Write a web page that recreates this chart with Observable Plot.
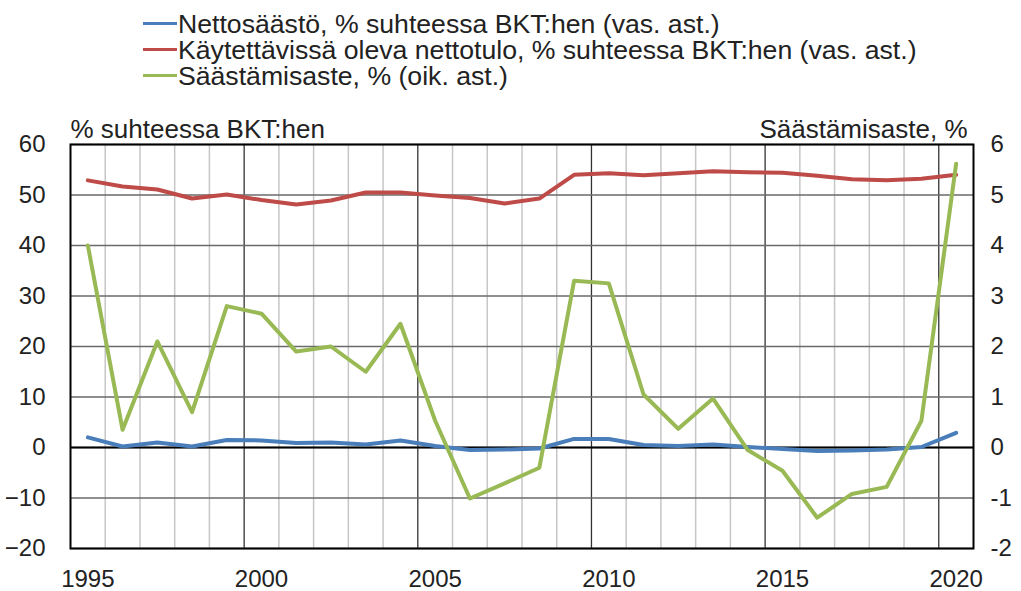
<!DOCTYPE html>
<html>
<head>
<meta charset="utf-8">
<script src="https://cdn.jsdelivr.net/npm/d3@7"></script>
<script src="https://cdn.jsdelivr.net/npm/@observablehq/plot@0.6"></script>
<style>
  html, body { margin: 0; padding: 0; background: #fff; }
  body { width: 1021px; height: 591px; overflow: hidden; font-family: "Liberation Sans", Arial, sans-serif; }
  #legend { position: relative; height: 95px; box-sizing: border-box; padding-top: 9px; padding-left: 143px; font-size: 25px; color: #222; }
  .row { height: 26px; line-height: 26px; white-space: nowrap; }
  .sw { display: inline-block; width: 34px; height: 3px; vertical-align: middle; margin-right: 1px; position: relative; top: -1px; }
  .lt { display: inline-block; transform: scaleX(1.065); transform-origin: 0 50%; vertical-align: middle; }
  svg { display: block; }
</style>
</head>
<body>
<div id="legend"></div>
<div id="chart"></div>
<script>
// ---- data ----
const years = [1995,1996,1997,1998,1999,2000,2001,2002,2003,2004,2005,2006,2007,2008,2009,2010,2011,2012,2013,2014,2015,2016,2017,2018,2019,2020];
// Nettosäästö, % suhteessa BKT:hen (left axis)
const netSaving = [2.0,0.2,1.0,0.2,1.5,1.4,0.9,1.0,0.6,1.4,0.3,-0.5,-0.4,-0.2,1.7,1.7,0.5,0.3,0.6,0.1,-0.3,-0.7,-0.6,-0.4,0.1,2.9];
// Käytettävissä oleva nettotulo, % suhteessa BKT:hen (left axis)
const disposableIncome = [52.9,51.7,51.1,49.3,50.1,49.0,48.1,48.9,50.5,50.5,49.9,49.4,48.3,49.3,54.0,54.3,53.9,54.3,54.7,54.5,54.4,53.8,53.1,52.9,53.2,54.0];
// Säästämisaste, % (right axis)
const savingRate = [4.0,0.35,2.1,0.7,2.8,2.65,1.9,2.0,1.5,2.45,0.53,-1.01,-0.71,-0.40,3.3,3.25,1.05,0.37,0.97,-0.05,-0.46,-1.39,-0.92,-0.78,0.53,5.62];

const seriesNames = [
  "Nettosäästö, % suhteessa BKT:hen (vas. ast.)",
  "Käytettävissä oleva nettotulo, % suhteessa BKT:hen (vas. ast.)",
  "Säästämisaste, % (oik. ast.)"
];
const seriesColors = ["#4a7ebb", "#be4b48", "#98b954"];
const leftTicks = [-20,-10,0,10,20,30,40,50,60];
const rightTickLabels = [-2,-1,0,1,2,3,4,5,6];
const xTicks = [1995,2000,2005,2010,2015,2020];
const leftTitle = "% suhteessa BKT:hen";
const rightTitle = "Säästämisaste, %";
const rightFactor = 10; // right axis value * 10 = left axis units

// ---- legend ----
const legend = document.getElementById("legend");
seriesNames.forEach((name, i) => {
  const row = document.createElement("div");
  row.className = "row";
  const sw = document.createElement("span");
  sw.className = "sw";
  sw.style.background = seriesColors[i];
  row.appendChild(sw);
  const t = document.createElement("span");
  t.className = "lt";
  t.textContent = name;
  row.appendChild(t);
  legend.appendChild(row);
});

// ---- tables ----
const netRows = years.map((yr, i) => ({year: yr, v: netSaving[i]}));
const incRows = years.map((yr, i) => ({year: yr, v: disposableIncome[i]}));
const rateRows = years.map((yr, i) => ({year: yr, v: savingRate[i]}));
const boundaries = years.map(yr => yr - 0.5).filter(b => b > years[0]);
const lightB = boundaries.filter(b => (b + 0.5) % 5 !== 0);
const darkB = boundaries.filter(b => (b + 0.5) % 5 === 0);

const chart = Plot.plot({
  width: 1021,
  height: 496,
  marginTop: 49,
  marginBottom: 43,
  marginLeft: 70,
  marginRight: 48,
  style: {fontFamily: "'Liberation Sans', Arial, sans-serif", fontSize: "24px", color: "#222", background: "#fff"},
  x: {domain: [years[0] - 0.5, years[years.length - 1] + 0.5]},
  y: {domain: [leftTicks[0], leftTicks[leftTicks.length - 1]]},
  marks: [
    Plot.ruleX(lightB, {stroke: "#c6c6c6", strokeWidth: 1.5}),
    Plot.ruleX(darkB, {stroke: "#333", strokeWidth: 1.3}),
    Plot.ruleY(leftTicks, {stroke: "#6a6a6a", strokeWidth: 1.5}),
    Plot.ruleY([0], {stroke: "#000", strokeWidth: 2}),
    Plot.frame({stroke: "#000", strokeWidth: 2}),
    Plot.axisY({anchor: "left", ticks: leftTicks, tickSize: 0, tickPadding: 25, label: null, fontSize: 24}),
    Plot.axisY({anchor: "right", ticks: leftTicks, tickSize: 0, tickPadding: 17, label: null, fontSize: 24,
      tickFormat: d => String(d / rightFactor)}),
    Plot.axisX({anchor: "bottom", ticks: xTicks, tickSize: 0, tickPadding: 21, label: null, fontSize: 24,
      tickFormat: d => String(d)}),
    Plot.line(netRows, {x: "year", y: "v", stroke: seriesColors[0], strokeWidth: 4, strokeLinejoin: "round"}),
    Plot.line(incRows, {x: "year", y: "v", stroke: seriesColors[1], strokeWidth: 4, strokeLinejoin: "round"}),
    Plot.line(rateRows, {x: "year", y: d => d.v * rightFactor, stroke: seriesColors[2], strokeWidth: 4, strokeLinejoin: "round"}),
    Plot.text([leftTitle], {frameAnchor: "top-left", textAnchor: "start", lineAnchor: "middle", dy: -15, fontSize: 26, fill: "#222"}),
    Plot.text([rightTitle], {frameAnchor: "top-right", textAnchor: "end", lineAnchor: "middle", dx: -6, dy: -15, fontSize: 26, fill: "#222"})
  ]
});
document.getElementById("chart").appendChild(chart);
</script>
</body>
</html>
